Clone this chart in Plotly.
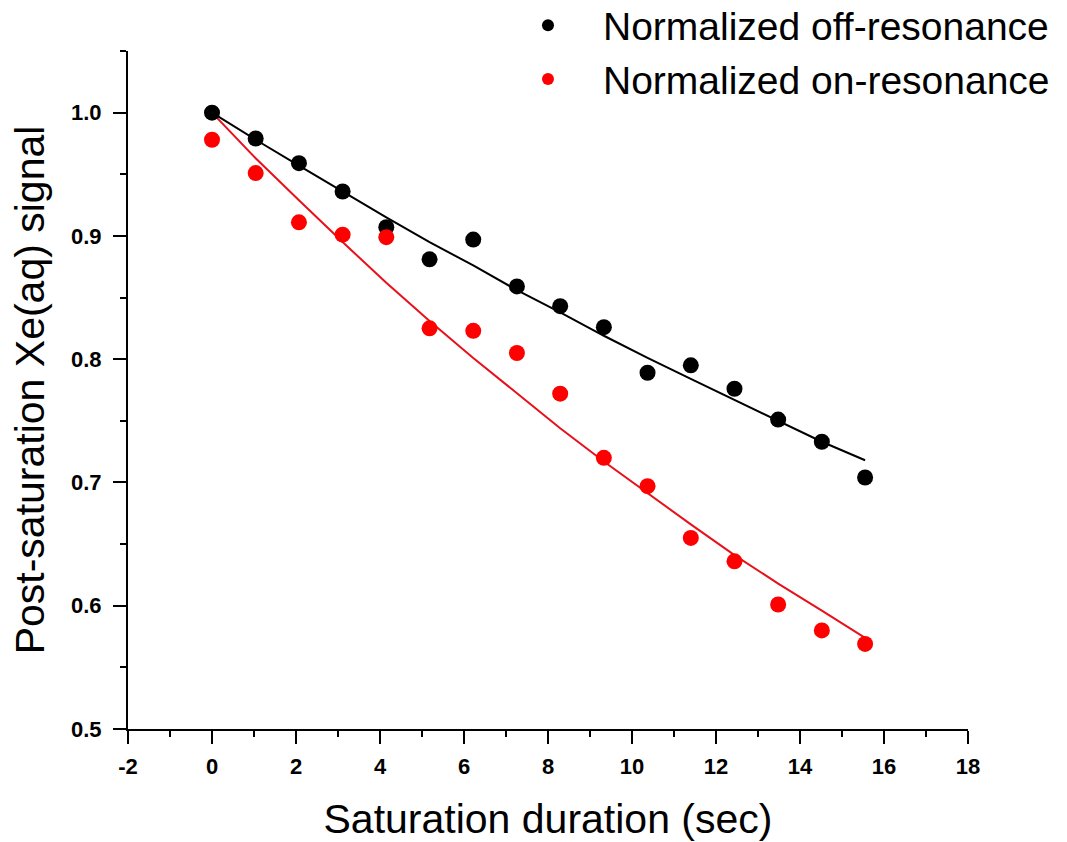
import plotly.graph_objects as go

# Data
duration = [0, 1.04, 2.07, 3.11, 4.15, 5.18, 6.22, 7.26, 8.29, 9.33,
            10.37, 11.40, 12.44, 13.48, 14.52, 15.55]
off_res = [1.000, 0.979, 0.959, 0.936, 0.907, 0.881, 0.897, 0.859, 0.843, 0.826,
           0.789, 0.795, 0.776, 0.751, 0.733, 0.704]
on_res = [0.978, 0.951, 0.911, 0.901, 0.899, 0.825, 0.823, 0.805, 0.772, 0.720,
          0.697, 0.655, 0.636, 0.601, 0.580, 0.569]
off_fit = [1.000, 0.978, 0.957, 0.936, 0.915, 0.895, 0.876, 0.856, 0.838, 0.819,
           0.801, 0.784, 0.767, 0.750, 0.733, 0.718]
on_fit = [1.000, 0.963, 0.929, 0.895, 0.862, 0.831, 0.801, 0.772, 0.744, 0.717,
          0.691, 0.666, 0.641, 0.618, 0.596, 0.574]

x_ticks = [-2, 0, 2, 4, 6, 8, 10, 12, 14, 16, 18]
x_tick_text = ["-2", "0", "2", "4", "6", "8", "10", "12", "14", "16", "18"]
y_ticks = [0.5, 0.6, 0.7, 0.8, 0.9, 1.0]
y_tick_text = ["0.5", "0.6", "0.7", "0.8", "0.9", "1.0"]

FONT = "Liberation Sans, Arial, sans-serif"
RED = "#ff0000"

fig = go.Figure()
fig.add_trace(go.Scatter(x=duration, y=off_fit, mode="lines",
                         line=dict(color="black", width=2), showlegend=False,
                         hoverinfo="skip"))
fig.add_trace(go.Scatter(x=duration, y=on_fit, mode="lines",
                         line=dict(color="#e8101a", width=2), showlegend=False,
                         hoverinfo="skip"))
fig.add_trace(go.Scatter(x=duration, y=off_res, mode="markers",
                         name="Normalized off-resonance",
                         marker=dict(color="black", size=16)))
fig.add_trace(go.Scatter(x=duration, y=on_res, mode="markers",
                         name="Normalized on-resonance",
                         marker=dict(color=RED, size=16)))

fig.update_layout(
    width=1067, height=842,
    margin=dict(l=128, r=99, t=51, b=113, autoexpand=False),
    paper_bgcolor="white", plot_bgcolor="white",
    font=dict(family=FONT, color="black"),
    legend=dict(x=0.4345, y=1.085, xanchor="left", yanchor="top",
                font=dict(size=39, family=FONT, color="black"),
                itemwidth=100, itemsizing="constant",
                bgcolor="rgba(0,0,0,0)", tracegroupgap=0),
    xaxis=dict(range=[-2, 18], tickvals=x_ticks, ticktext=x_tick_text,
               ticks="outside", ticklen=13, tickwidth=2, tickcolor="black",
               showline=True, linecolor="black", linewidth=2,
               showgrid=False, zeroline=False,
               tickfont=dict(family=FONT, size=22, color="black", weight="bold"),
               ticklabelstandoff=4,
               minor=dict(dtick=1, ticks="outside", ticklen=6, tickwidth=2,
                          tickcolor="black", showgrid=False),
               title=dict(text="Saturation duration (sec)",
                          font=dict(family=FONT, size=41, color="black"),
                          standoff=27)),
    yaxis=dict(range=[0.5, 1.05], tickvals=y_ticks, ticktext=y_tick_text,
               ticks="outside", ticklen=13, tickwidth=2, tickcolor="black",
               showline=True, linecolor="black", linewidth=2,
               showgrid=False, zeroline=False,
               tickfont=dict(family=FONT, size=22, color="black", weight="bold"),
               ticklabelstandoff=7,
               minor=dict(dtick=0.05, ticks="outside", ticklen=6, tickwidth=2,
                          tickcolor="black", showgrid=False),
               title=dict(text="Post-saturation Xe(aq) signal",
                          font=dict(family=FONT, size=41, color="black"),
                          standoff=14)),
)

fig.write_html("out.html")
